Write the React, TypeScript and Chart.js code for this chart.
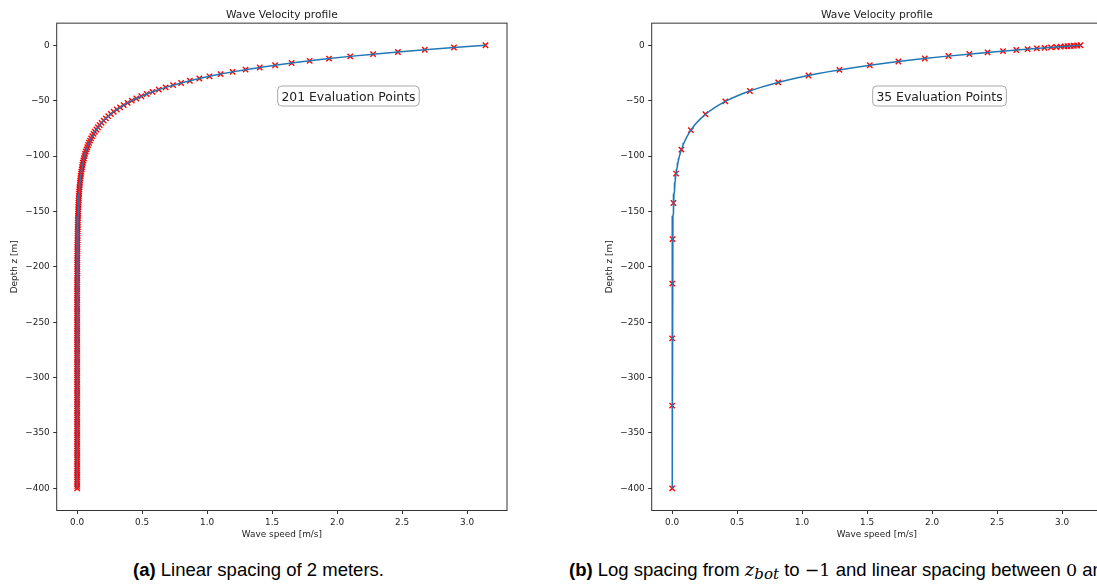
import React, { useEffect, useRef } from "react";
import { Chart, registerables } from "chart.js";

Chart.register(...registerables);

// Depth grid of the linear evaluation (2 m spacing), metres
const DEPTH_LINEAR = [
  0, -2, -4, -6, -8, -10, -12, -14, -16, -18,
  -20, -22, -24, -26, -28, -30, -32, -34, -36, -38,
  -40, -42, -44, -46, -48, -50, -52, -54, -56, -58,
  -60, -62, -64, -66, -68, -70, -72, -74, -76, -78,
  -80, -82, -84, -86, -88, -90, -92, -94, -96, -98,
  -100, -102, -104, -106, -108, -110, -112, -114, -116, -118,
  -120, -122, -124, -126, -128, -130, -132, -134, -136, -138,
  -140, -142, -144, -146, -148, -150, -152, -154, -156, -158,
  -160, -162, -164, -166, -168, -170, -172, -174, -176, -178,
  -180, -182, -184, -186, -188, -190, -192, -194, -196, -198,
  -200, -202, -204, -206, -208, -210, -212, -214, -216, -218,
  -220, -222, -224, -226, -228, -230, -232, -234, -236, -238,
  -240, -242, -244, -246, -248, -250, -252, -254, -256, -258,
  -260, -262, -264, -266, -268, -270, -272, -274, -276, -278,
  -280, -282, -284, -286, -288, -290, -292, -294, -296, -298,
  -300, -302, -304, -306, -308, -310, -312, -314, -316, -318,
  -320, -322, -324, -326, -328, -330, -332, -334, -336, -338,
  -340, -342, -344, -346, -348, -350, -352, -354, -356, -358,
  -360, -362, -364, -366, -368, -370, -372, -374, -376, -378,
  -380, -382, -384, -386, -388, -390, -392, -394, -396, -398,
  -400,
];

// Wave speed read at each linear depth, m/s
const SPEED_LINEAR = [
  3.142, 2.899, 2.675, 2.468, 2.277, 2.101, 1.938, 1.789, 1.650, 1.523,
  1.405, 1.296, 1.196, 1.104, 1.018, 0.940, 0.867, 0.800, 0.738, 0.681,
  0.628, 0.580, 0.535, 0.494, 0.455, 0.420, 0.388, 0.358, 0.330, 0.305,
  0.281, 0.259, 0.239, 0.221, 0.204, 0.188, 0.173, 0.160, 0.148, 0.136,
  0.126, 0.116, 0.107, 0.099, 0.091, 0.084, 0.078, 0.072, 0.066, 0.061,
  0.056, 0.052, 0.048, 0.044, 0.041, 0.038, 0.035, 0.032, 0.030, 0.027,
  0.025, 0.023, 0.021, 0.020, 0.018, 0.017, 0.016, 0.014, 0.013, 0.012,
  0.011, 0.010, 0.010, 0.009, 0.008, 0.008, 0.007, 0.006, 0.006, 0.005,
  0.005, 0.005, 0.004, 0.004, 0.004, 0.003, 0.003, 0.003, 0.003, 0.002,
  0.002, 0.002, 0.002, 0.002, 0.002, 0.001, 0.001, 0.001, 0.001, 0.001,
  0.001, 0.001, 0.001, 0.001, 0.001, 0.001, 0, 0, 0, 0,
  0, 0, 0, 0, 0, 0, 0, 0, 0, 0,
  0, 0, 0, 0, 0, 0, 0, 0, 0, 0,
  0, 0, 0, 0, 0, 0, 0, 0, 0, 0,
  0, 0, 0, 0, 0, 0, 0, 0, 0, 0,
  0, 0, 0, 0, 0, 0, 0, 0, 0, 0,
  0, 0, 0, 0, 0, 0, 0, 0, 0, 0,
  0, 0, 0, 0, 0, 0, 0, 0, 0, 0,
  0, 0, 0, 0, 0, 0, 0, 0, 0, 0,
  0, 0, 0, 0, 0, 0, 0, 0, 0, 0,
  0,
];

// 35 evaluation points: log spacing to -1 m, then linear spacing up to 0
const DEPTH_EVAL = [
  -400, -325.3, -264.6, -215.2, -175.0, -142.4, -115.8, -94.17, -76.59, -62.29,
  -50.66, -41.21, -33.51, -27.26, -22.17, -18.03, -14.67, -11.93, -9.7, -7.89,
  -6.42, -5.22, -4.25, -3.45, -2.81, -2.29, -1.86, -1.51, -1.23, -1.0,
  -0.8, -0.6, -0.4, -0.2, 0,
];
const SPEED_EVAL = [
  0.0, 0.0, 0.0, 0.001, 0.003, 0.010, 0.030, 0.071, 0.144, 0.256,
  0.409, 0.598, 0.816, 1.049, 1.287, 1.521, 1.741, 1.944, 2.126, 2.287,
  2.427, 2.546, 2.648, 2.735, 2.806, 2.865, 2.915, 2.956, 2.990, 3.018,
  3.042, 3.067, 3.091, 3.116, 3.142,
];

const X_TICKS = [0, 0.5, 1.0, 1.5, 2.0, 2.5, 3.0];
const Y_TICKS = [0, -50, -100, -150, -200, -250, -300, -350, -400];
const X_MIN = -0.1575;
const X_MAX = 3.3075;
const Y_MIN = -420;
const Y_MAX = 20;

const TITLE = "Wave Velocity profile";
const X_LABEL = "Wave speed [m/s]";
const Y_LABEL = "Depth z [m]";
const BOX_LEFT = "201 Evaluation Points";
const BOX_RIGHT = "35 Evaluation Points";

const FONT = "'DejaVu Sans', sans-serif";
const TEXT = "#222";

type PanelProps = {
  left: number;
  markerDepth: number[];
  markerSpeed: number[];
  boxText: string;
};

function Panel({ left, markerDepth, markerSpeed, boxText }: PanelProps) {
  const ref = useRef<HTMLCanvasElement | null>(null);

  useEffect(() => {
    if (!ref.current) return;
    const decor = {
      id: "decor",
      afterDatasetsDraw(chart: any) {
        const { ctx, chartArea } = chart;
        ctx.save();
        ctx.font = `12.4px ${FONT}`;
        const w = ctx.measureText(boxText).width;
        const pad = 3.7;
        const bx = chartArea.left + 221;
        const by = 86;
        const bw = w + pad * 2;
        const bh = 20;
        ctx.beginPath();
        ctx.roundRect(bx, by, bw, bh, 4);
        ctx.fillStyle = "#fff";
        ctx.fill();
        ctx.strokeStyle = "#a8a8a8";
        ctx.lineWidth = 1;
        ctx.stroke();
        ctx.fillStyle = TEXT;
        ctx.textBaseline = "alphabetic";
        ctx.textAlign = "left";
        ctx.fillText(boxText, bx + pad, 100.6);
        ctx.restore();
      },
      afterDraw(chart: any) {
        const { ctx, chartArea } = chart;
        ctx.save();
        ctx.strokeStyle = "#333";
        ctx.lineWidth = 1;
        ctx.strokeRect(
          chartArea.left,
          chartArea.top,
          chartArea.right - chartArea.left,
          chartArea.bottom - chartArea.top
        );
        ctx.font = `10.7px ${FONT}`;
        ctx.fillStyle = TEXT;
        ctx.textAlign = "center";
        ctx.textBaseline = "alphabetic";
        ctx.fillText(TITLE, (chartArea.left + chartArea.right) / 2, 18.3);
        ctx.restore();
      },
    };

    const lineData = DEPTH_LINEAR.map((z, i) => ({ x: SPEED_LINEAR[i], y: z }));
    const markData = markerDepth.map((z, i) => ({ x: markerSpeed[i], y: z }));

    const chart = new Chart(ref.current, {
      type: "scatter",
      data: {
        datasets: [
          {
            data: lineData,
            showLine: true,
            borderColor: "#1f77b4",
            borderWidth: 1.5,
            pointRadius: 0,
            fill: false,
          },
          {
            data: markData,
            showLine: false,
            pointStyle: "crossRot",
            pointRadius: 3.8,
            pointBorderWidth: 1.4,
            borderColor: "#ff0000",
            backgroundColor: "#ff0000",
          },
        ],
      },
      options: {
        responsive: false,
        animation: false,
        events: [],
        layout: { padding: { top: 23.15, right: 33, left: 0, bottom: 0 } },
        plugins: { legend: { display: false }, tooltip: { enabled: false } },
        scales: {
          x: {
            type: "linear",
            min: X_MIN,
            max: X_MAX,
            afterBuildTicks: (axis: any) => {
              axis.ticks = X_TICKS.map((v) => ({ value: v }));
            },
            afterFit: (axis: any) => {
              axis.height = 34.5;
            },
            ticks: {
              autoSkip: false,
              maxRotation: 0,
              padding: 3,
              color: TEXT,
              font: { family: FONT, size: 8.9 },
              callback: (v: any) => Number(v).toFixed(1),
            },
            grid: {
              display: true,
              drawOnChartArea: false,
              drawTicks: true,
              tickLength: 3.5,
              color: "#333",
            },
            border: { display: false },
            title: {
              display: true,
              text: X_LABEL,
              color: TEXT,
              font: { family: FONT, size: 8.9 },
              padding: { top: 0, bottom: 4.6 },
            },
          },
          y: {
            type: "linear",
            min: Y_MIN,
            max: Y_MAX,
            afterBuildTicks: (axis: any) => {
              axis.ticks = Y_TICKS.map((v) => ({ value: v }));
            },
            afterFit: (axis: any) => {
              axis.width = 56.7;
            },
            ticks: {
              autoSkip: false,
              padding: 3.5,
              color: TEXT,
              font: { family: FONT, size: 8.9 },
              callback: (v: any) =>
                Number(v) < 0 ? "\u2212" + Math.abs(Number(v)) : String(v),
            },
            grid: {
              display: true,
              drawOnChartArea: false,
              drawTicks: true,
              tickLength: 3.5,
              color: "#333",
            },
            border: { display: false },
            title: {
              display: true,
              text: Y_LABEL,
              color: TEXT,
              font: { family: FONT, size: 8.9 },
              padding: { top: 9.7, bottom: 0 },
            },
          },
        },
      },
      plugins: [decor],
    } as any);
    return () => chart.destroy();
  }, [markerDepth, markerSpeed, boxText]);

  return (
    <canvas
      ref={ref}
      width={540}
      height={545}
      style={{ position: "absolute", left, top: 0, width: 540, height: 545 }}
    />
  );
}

const mathFont = { fontFamily: "'DejaVu Serif', 'Liberation Serif', serif" };

export default function App() {
  return (
    <div
      style={{
        position: "fixed",
        left: 0,
        top: 0,
        width: 1097,
        height: 584,
        overflow: "hidden",
        background: "#fff",
      }}
    >
      <Panel left={0} markerDepth={DEPTH_LINEAR} markerSpeed={SPEED_LINEAR} boxText={BOX_LEFT} />
      <Panel left={595} markerDepth={DEPTH_EVAL} markerSpeed={SPEED_EVAL} boxText={BOX_RIGHT} />
      <div
        style={{
          position: "absolute",
          left: 0,
          width: 517,
          top: 560,
          textAlign: "center",
          whiteSpace: "nowrap",
          fontFamily: "'Liberation Sans', Arial, sans-serif",
          fontSize: 18.5,
          lineHeight: "20px",
          color: "#000",
        }}
      >
        <b>(a)</b> Linear spacing of 2 meters.
      </div>
      <div
        style={{
          position: "absolute",
          left: 569,
          top: 560,
          whiteSpace: "nowrap",
          fontFamily: "'Liberation Sans', Arial, sans-serif",
          fontSize: 18.5,
          lineHeight: "20px",
          color: "#000",
        }}
      >
        <b>(b)</b> Log spacing from{" "}
        <span style={{ ...mathFont, fontStyle: "italic", fontSize: 18 }}>
          z
          <sub style={{ fontSize: 15, verticalAlign: "-3px", lineHeight: 0 }}>bot</sub>
        </span>{" "}
        to <span style={{ ...mathFont, fontSize: 17.5 }}>{"\u22121"}</span> and linear spacing
        between <span style={{ ...mathFont, fontSize: 17.5 }}>0</span> and{" "}
        <span style={{ ...mathFont, fontSize: 17.5 }}>{"\u22121"}</span>.
      </div>
    </div>
  );
}
